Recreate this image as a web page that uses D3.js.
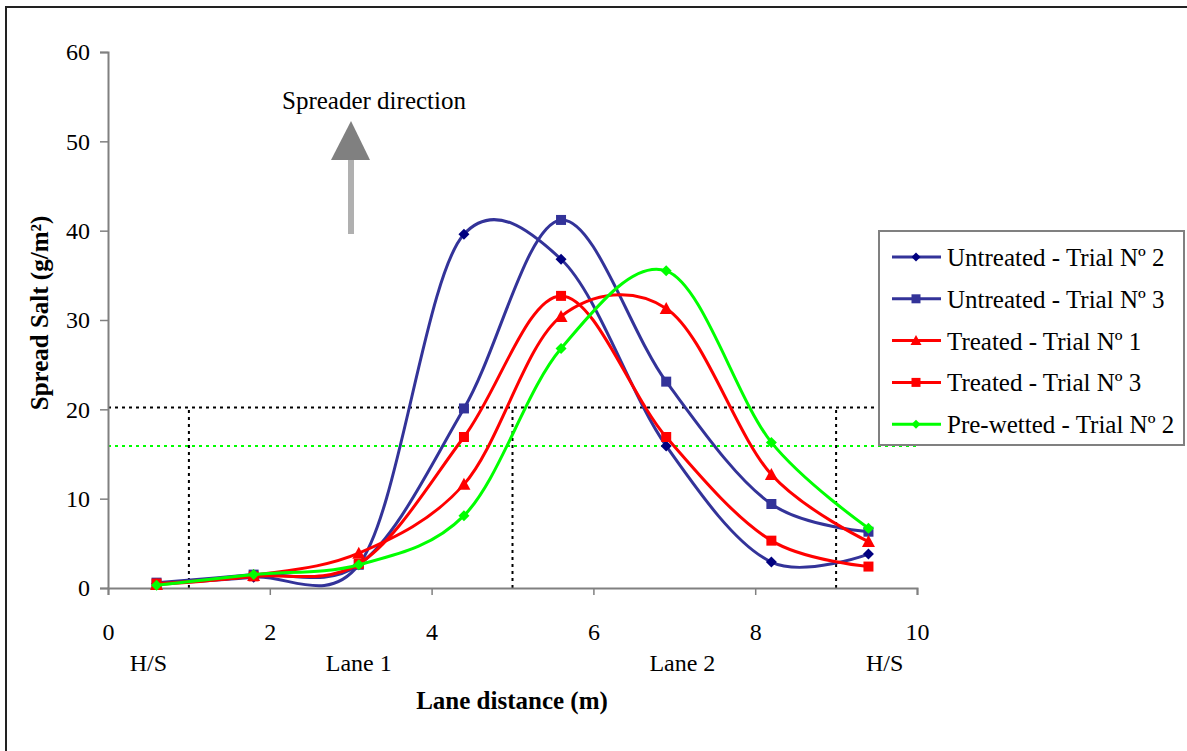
<!DOCTYPE html>
<html>
<head>
<meta charset="utf-8">
<script src="https://cdn.jsdelivr.net/npm/d3@7"></script>
<style>
  body { margin: 0; background: #fff; }
  text { font-family: "Liberation Serif", "Times New Roman", serif; fill: #000; }
</style>
</head>
<body>
<svg id="chart" width="1187" height="751"></svg>
<script>
// positions des mesures (m)
var distances = [0.6, 1.8, 3.1, 4.4, 5.6, 6.9, 8.2, 9.4];

// sel épandu (g/m2) pour chaque essai
var untreated2 = [0.5, 1.2, 2.6, 39.6, 36.8, 15.9, 2.9, 3.8];
var untreated3 = [0.6, 1.5, 2.6, 20.1, 41.2, 23.1, 9.4, 6.3];
var treated1   = [0.4, 1.4, 3.9, 11.6, 30.4, 31.3, 12.7, 5.2];
var treated3   = [0.5, 1.3, 2.7, 16.9, 32.7, 16.9, 5.3, 2.4];
var prewetted2 = [0.3, 1.5, 2.6, 8.1, 26.8, 35.5, 16.3, 6.7];

var seriesNames = ["Untreated - Trial Nº 2", "Untreated - Trial Nº 3", "Treated - Trial Nº 1", "Treated - Trial Nº 3", "Pre-wetted - Trial Nº 2"];
var seriesValues = [untreated2, untreated3, treated1, treated3, prewetted2];
var lineColors = ["#333399", "#333399", "#ff0000", "#ff0000", "#00ff00"];
var markerColors = ["#000080", "#333399", "#ff0000", "#ff0000", "#00ff00"];
var markerTypes = ["diamond", "square", "triangle", "square", "diamond"];

var yTicks = [0, 10, 20, 30, 40, 50, 60];
var xTicks = [0, 2, 4, 6, 8, 10];
var laneLabels = ["H/S", "Lane 1", "Lane 2", "H/S"];
var lanePositions = [0.5, 3.1, 7.1, 9.6];

// seuils (lignes pointillées)
var thresholdBlack = 20.2;
var thresholdGreen = 15.9;
var verticalMarks = [1, 5, 9];

var svg = d3.select("#chart");

// cadre extérieur
svg.append("rect")
   .attr("x", 6).attr("y", 7)
   .attr("width", 1190).attr("height", 760)
   .attr("fill", "none")
   .attr("stroke", "#222")
   .attr("stroke-width", 2);

var x = d3.scaleLinear().domain([0, 10]).range([108, 917]);
var y = d3.scaleLinear().domain([0, 60]).range([588, 52]);

// lignes pointillées
var dashes = svg.append("g");
dashes.append("line")
      .attr("x1", x(0)).attr("x2", x(10))
      .attr("y1", y(thresholdBlack)).attr("y2", y(thresholdBlack))
      .attr("stroke", "#000").attr("stroke-width", 2).attr("stroke-dasharray", "3,4");
dashes.append("line")
      .attr("x1", x(0)).attr("x2", x(10))
      .attr("y1", y(thresholdGreen)).attr("y2", y(thresholdGreen))
      .attr("stroke", "#00ff00").attr("stroke-width", 2).attr("stroke-dasharray", "3,4");
dashes.selectAll(".vmark")
      .data(verticalMarks)
      .enter()
      .append("line")
      .attr("class", "vmark")
      .attr("x1", function(d){ return x(d); }).attr("x2", function(d){ return x(d); })
      .attr("y1", y(0)).attr("y2", y(thresholdBlack))
      .attr("stroke", "#000").attr("stroke-width", 2).attr("stroke-dasharray", "3,4");

// axes
var yAxis = svg.append("g")
   .attr("transform", "translate(" + x(0) + ",0)")
   .call(d3.axisLeft(y).tickValues(yTicks).tickSize(8).tickPadding(10));
var xAxis = svg.append("g")
   .attr("transform", "translate(0," + y(0) + ")")
   .call(d3.axisBottom(x).tickValues(xTicks).tickSize(7).tickPadding(28));

[yAxis, xAxis].forEach(function(ax){
    ax.select(".domain").attr("stroke", "#808080").attr("stroke-width", 2);
    ax.selectAll(".tick line").attr("stroke", "#808080").attr("stroke-width", 1.5);
    ax.selectAll(".tick text")
      .style("font-family", "'Liberation Serif', serif")
      .style("font-size", "24px")
      .attr("fill", "#000");
});

// étiquettes des voies
svg.selectAll(".lane")
   .data(laneLabels)
   .enter()
   .append("text")
   .attr("class", "lane")
   .attr("x", function(d, i){ return x(lanePositions[i]); })
   .attr("y", 671)
   .attr("text-anchor", "middle")
   .style("font-size", "24px")
   .text(function(d){ return d; });

// titres des axes
svg.append("text")
   .attr("x", 512).attr("y", 709)
   .attr("text-anchor", "middle")
   .style("font-size", "25px").style("font-weight", "bold")
   .text("Lane distance (m)");
svg.append("text")
   .attr("transform", "translate(48,313) rotate(-90)")
   .attr("text-anchor", "middle")
   .style("font-size", "25px").style("font-weight", "bold")
   .text("Spread Salt (g/m²)");

// flèche "Spreader direction"
svg.append("text")
   .attr("x", 374).attr("y", 109)
   .attr("text-anchor", "middle")
   .style("font-size", "25px")
   .text("Spreader direction");
svg.append("rect")
   .attr("x", 348).attr("y", 160)
   .attr("width", 6).attr("height", 74)
   .attr("fill", "#b0b0b0");
svg.append("path")
   .attr("d", "M351,121 L370,160 L331,160 Z")
   .attr("fill", "#808080");

// symboles
function markerPath(type, size){
    var s = size / 2;
    if (type == "diamond") return "M0," + (-s) + " L" + s + ",0 L0," + s + " L" + (-s) + ",0 Z";
    if (type == "square") return "M" + (-s) + "," + (-s) + " h" + size + " v" + size + " h" + (-size) + " Z";
    return "M0," + (-s - 1) + " L" + (s + 1) + "," + (s) + " L" + (-s - 1) + "," + (s) + " Z";
}

// lissage proche de celui d'Excel
var line = d3.line()
   .x(function(d, i){ return x(distances[i]); })
   .y(function(d){ return y(d); })
   .curve(d3.curveCatmullRom.alpha(0.2));

seriesValues.forEach(function(values, k){
    var g = svg.append("g");
    g.append("path")
     .attr("d", line(values))
     .attr("fill", "none")
     .attr("stroke", lineColors[k])
     .attr("stroke-width", 3);
    g.selectAll("path.mk")
     .data(values)
     .enter()
     .append("path")
     .attr("class", "mk")
     .attr("transform", function(d, i){ return "translate(" + x(distances[i]) + "," + y(d) + ")"; })
     .attr("d", markerPath(markerTypes[k], markerTypes[k] == "square" ? 10 : 11))
     .attr("fill", markerColors[k]);
});

// légende
var legend = svg.append("g");
legend.append("rect")
   .attr("x", 879).attr("y", 231)
   .attr("width", 305).attr("height", 214)
   .attr("fill", "#fff")
   .attr("stroke", "#808080")
   .attr("stroke-width", 2);
var items = legend.selectAll(".item")
   .data(seriesNames)
   .enter()
   .append("g")
   .attr("class", "item")
   .attr("transform", function(d, i){ return "translate(0," + (257 + i * 41.8) + ")"; });
items.append("line")
   .attr("x1", 892).attr("x2", 941)
   .attr("stroke", function(d, i){ return lineColors[i]; })
   .attr("stroke-width", 3);
items.append("path")
   .attr("transform", "translate(916,0)")
   .attr("d", function(d, i){ return markerPath(markerTypes[i], 9); })
   .attr("fill", function(d, i){ return markerColors[i]; });
items.append("text")
   .attr("x", 947).attr("y", 9)
   .style("font-size", "25px")
   .text(function(d){ return d; });
</script>
</body>
</html>
